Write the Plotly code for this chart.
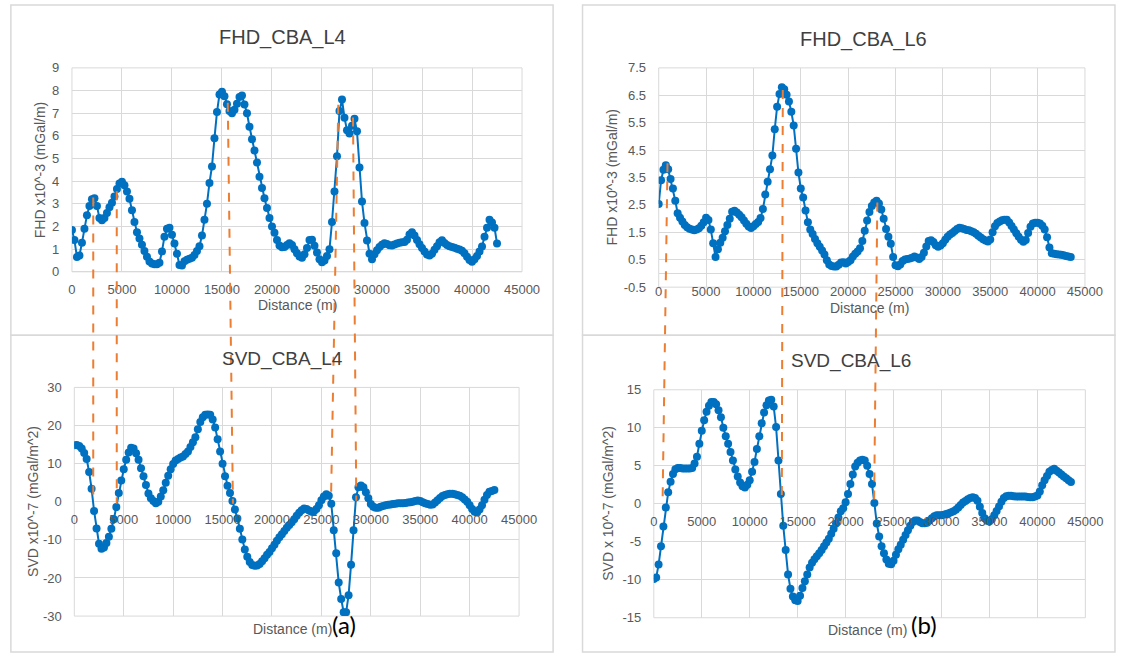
import plotly.graph_objects as go

W, H = 1131, 658

# ---------------- data ----------------
dist_L4 = list(range(0, 42501, 250))   # station distance (m), line L4
dist_L6 = list(range(0, 43501, 250))   # station distance (m), line L6

fhd_L4 = [
    1.85, 1.4, 0.65, 0.72, 1.28, 1.9, 2.5, 2.9, 3.2, 3.25,
    2.9, 2.38, 2.28, 2.37, 2.6, 2.85, 3.05, 3.32, 3.65, 3.9,
    3.97, 3.82, 3.55, 3.22, 2.72, 2.2, 1.75, 1.47, 1.2, 0.92,
    0.66, 0.46, 0.37, 0.33, 0.33, 0.4, 0.9, 1.55, 1.9, 1.95,
    1.64, 1.25, 0.8, 0.3, 0.28, 0.47, 0.53, 0.58, 0.62, 0.74,
    0.92, 1.13, 1.6, 2.3, 3.0, 3.92, 4.65, 5.9, 7.05, 7.83,
    7.95, 7.75, 7.4, 7.1, 7.0, 7.15, 7.42, 7.72, 7.78, 7.38,
    7.0, 6.4, 5.85, 5.35, 4.82, 4.2, 3.7, 3.25, 2.82, 2.38,
    2.0, 1.72, 1.4, 1.16, 1.08, 1.1, 1.18, 1.26, 1.18, 1.0,
    0.82, 0.68, 0.62, 0.78, 1.05, 1.4, 1.42, 1.15, 0.85, 0.55,
    0.42, 0.5, 0.7, 1.0, 2.2, 3.55, 5.1, 7.1, 7.6, 6.8,
    6.25, 6.1, 6.45, 6.75, 6.2, 4.6, 3.1, 2.15, 1.38, 0.8,
    0.55, 0.78, 0.95, 1.1, 1.2, 1.26, 1.23, 1.17, 1.16, 1.21,
    1.25, 1.28, 1.3, 1.32, 1.42, 1.65, 1.75, 1.6, 1.4, 1.22,
    1.05, 0.9, 0.76, 0.72, 0.8, 0.97, 1.13, 1.3, 1.39, 1.27,
    1.18, 1.13, 1.1, 1.06, 1.02, 0.98, 0.93, 0.82, 0.66, 0.52,
    0.44, 0.55, 0.7, 0.9, 1.12, 1.55, 1.95, 2.3, 2.18, 1.95,
    1.25,
]

svd_L4 = [
    14.8, 14.9, 14.6, 14.0, 12.8, 11.2, 7.8, 3.4, -2.4, -7.0,
    -11.0, -12.3, -12.0, -10.8, -9.2, -7.1, -4.6, -1.4, 2.3, 5.6,
    8.5, 11.0, 12.9, 14.2, 14.0, 12.7, 11.0, 8.8, 6.7, 4.4,
    2.2, 0.9, 0.2, -0.4, 0.0, 1.4, 3.0, 5.0, 6.8, 8.5,
    9.9, 10.8, 11.2, 11.6, 11.9, 12.5, 13.2, 14.4, 15.6, 16.9,
    19.0, 20.9, 22.2, 22.8, 22.9, 22.8, 21.6, 19.5, 16.4, 13.2,
    10.0, 6.7, 4.2, 2.3, 0.2, -2.0, -4.4, -7.1, -9.9, -12.5,
    -14.4, -15.8, -16.6, -16.8, -16.7, -16.3, -15.6, -14.8, -13.9, -13.2,
    -12.2, -11.3, -10.2, -9.3, -8.5, -7.7, -6.8, -6.1, -5.4, -4.6,
    -3.7, -2.9, -2.2, -1.8, -1.9, -2.3, -2.6, -2.5, -1.9, -0.9,
    0.4, 1.4, 2.0, 1.6, -0.5, -7.5, -13.5, -21.2, -25.5, -29.0,
    -29.0, -24.5, -16.5, -7.5, 1.2, 3.8, 4.3, 3.8, 2.5, 0.9,
    -0.6, -1.3, -1.6, -1.6, -1.3, -1.1, -0.9, -0.8, -0.7, -0.6,
    -0.5, -0.4, -0.4, -0.4, -0.3, -0.2, -0.1, 0.0, 0.2, 0.3,
    0.2, -0.1, -0.4, -0.6, -0.8, -0.7, -0.2, 0.4, 1.0, 1.5,
    1.8, 2.0, 2.1, 2.1, 2.0, 1.8, 1.6, 1.2, 0.6, 0.0,
    -0.9, -1.9, -2.6, -2.8, -2.0, -0.9, 0.5, 1.8, 2.6, 2.8,
    3.1,
]

fhd_L6 = [
    2.53, 3.4, 3.78, 3.95, 3.8, 3.45, 3.1, 2.65, 2.2, 2.03,
    1.9, 1.77, 1.69, 1.63, 1.6, 1.58, 1.6, 1.65, 1.74, 1.87,
    2.03, 1.95, 1.6, 1.1, 0.6, 0.88, 1.12, 1.3, 1.54, 1.77,
    2.0, 2.25, 2.29, 2.22, 2.14, 2.05, 1.93, 1.81, 1.71, 1.66,
    1.72, 1.8, 1.88, 2.02, 2.35, 2.88, 3.35, 3.8, 4.3, 5.26,
    6.08, 6.55, 6.79, 6.72, 6.52, 6.27, 5.9, 5.4, 4.55, 3.68,
    3.1, 2.77, 2.3, 1.87, 1.6, 1.44, 1.26, 1.1, 0.97, 0.84,
    0.69, 0.48, 0.33, 0.27, 0.25, 0.25, 0.32, 0.4, 0.41, 0.36,
    0.42, 0.48, 0.62, 0.72, 0.8, 0.92, 1.18, 1.56, 1.93, 2.24,
    2.46, 2.59, 2.65, 2.55, 2.33, 2.0, 1.62, 1.34, 1.08, 0.6,
    0.3, 0.26, 0.33, 0.45, 0.51, 0.53, 0.55, 0.57, 0.62, 0.58,
    0.53, 0.6, 0.76, 0.98, 1.18, 1.21, 1.15, 1.03, 0.97, 1.02,
    1.1, 1.23, 1.34, 1.42, 1.48, 1.55, 1.62, 1.67, 1.65, 1.62,
    1.59, 1.58, 1.54, 1.5, 1.45, 1.38, 1.31, 1.25, 1.2, 1.17,
    1.24, 1.5, 1.72, 1.84, 1.9, 1.94, 1.96, 1.96, 1.86, 1.73,
    1.6, 1.47, 1.34, 1.23, 1.16, 1.22, 1.48, 1.7, 1.82, 1.85,
    1.85, 1.82, 1.74, 1.6, 1.32, 0.95, 0.74, 0.72, 0.7, 0.69,
    0.68, 0.66, 0.64, 0.62, 0.6,
]

svd_L6 = [
    -9.9, -9.7, -8.0, -5.6, -3.0, -0.5, 1.5, 2.9, 3.9, 4.55,
    4.7, 4.7, 4.65, 4.63, 4.63, 4.63, 4.7, 5.3, 6.2, 7.9,
    9.6, 11.0, 12.1, 12.9, 13.4, 13.4, 13.1, 12.3, 11.4, 10.0,
    8.9, 7.9, 6.8, 5.7, 4.5, 3.6, 2.8, 2.3, 2.15, 2.5,
    3.1, 4.2, 5.5, 7.2, 8.9, 10.6, 12.0, 12.95, 13.6, 13.7,
    12.8, 10.1, 5.7, 1.3, -2.9, -6.1, -9.3, -11.2, -12.2, -12.7,
    -12.8, -12.1, -11.1, -10.2, -9.3, -8.4, -7.75, -7.3, -6.9, -6.5,
    -6.1, -5.6, -5.1, -4.6, -3.95, -3.3, -2.6, -1.8, -1.0, -0.6,
    0.2, 1.3, 2.6, 3.86, 4.9, 5.4, 5.7, 5.8, 5.7, 5.0,
    3.9, 2.6, 0.1, -2.6, -4.3, -5.6, -6.5, -7.35, -7.9, -7.95,
    -7.5, -6.7, -6.0, -5.4, -4.75, -4.1, -3.5, -2.9, -2.4, -2.2,
    -2.2, -2.4, -2.55, -2.57, -2.5, -2.2, -1.9, -1.65, -1.5, -1.5,
    -1.5, -1.45, -1.35, -1.25, -1.12, -1.0, -0.8, -0.5, -0.15, 0.15,
    0.35, 0.6, 0.75, 0.86, 0.77, 0.4, -0.4, -1.2, -1.9, -2.25,
    -2.3, -2.05, -1.5, -0.95, -0.35, 0.25, 0.75, 1.0, 1.07, 1.07,
    1.0, 0.95, 0.94, 0.94, 0.94, 0.94, 0.9, 0.87, 0.86, 0.95,
    1.1, 1.6, 2.45, 3.1, 3.65, 4.2, 4.45, 4.6, 4.35, 4.1,
    3.85, 3.6, 3.35, 3.1, 2.85,
]

assert len(fhd_L4) == len(dist_L4) and len(svd_L4) == len(dist_L4)
assert len(fhd_L6) == len(dist_L6) and len(svd_L6) == len(dist_L6)

# tick labels (as printed on the chart)
x_ticks = [0, 5000, 10000, 15000, 20000, 25000, 30000, 35000, 40000, 45000]
x_ticktext = ["0", "5000", "10000", "15000", "20000", "25000", "30000", "35000", "40000", "45000"]
y_ticks = [
    [0, 1, 2, 3, 4, 5, 6, 7, 8, 9],
    [-30, -20, -10, 0, 10, 20, 30],
    [-0.5, 0.5, 1.5, 2.5, 3.5, 4.5, 5.5, 6.5, 7.5],
    [-15, -10, -5, 0, 5, 10, 15],
]
y_ticktext = [
    ["0", "1", "2", "3", "4", "5", "6", "7", "8", "9"],
    ["-30", "-20", "-10", "0", "10", "20", "30"],
    ["-0.5", "0.5", "1.5", "2.5", "3.5", "4.5", "5.5", "6.5", "7.5"],
    ["-15", "-10", "-5", "0", "5", "10", "15"],
]

titles = ["FHD_CBA_L4", "SVD_CBA_L4", "FHD_CBA_L6", "SVD_CBA_L6"]
ytitles = ["FHD x10^-3 (mGal/m)", "SVD x10^-7 (mGal/m^2)",
           "FHD x10^-3 (mGal/m)", "SVD x 10^-7 (mGal/m^2)"]
xtitle = "Distance (m)"
panel_labels = ["(a)", "(b)"]

# connectors: (top panel, x, y) -> (bottom panel, x, y) in data units
connectors = [
    (0, 2130, 3.28, 1, 1915, 0.0),
    (0, 4480, 3.56, 1, 4295, -0.5),
    (0, 15580, 7.46, 1, 16050, -0.5),
    (0, 26630, 7.37, 1, 25970, 0.25),
    (0, 28100, 6.81, 1, 28530, 0.25),
    (2, 930, 4.02, 3, 920, 0.68),
    (2, 13100, 6.69, 3, 13350, 0.2),
    (2, 23080, 2.59, 3, 22970, 0.0),
]

# ---------------- layout helpers ----------------
def px_x(p):
    return p / W

def px_y(p):
    return 1 - p / H

# plot-area pixel boxes: (x_left, x_right, y_top, y_bottom)
boxes = [
    (69.3, 528.3, 62.3, 271.0),
    (71.7, 525.3, 389.3, 623.3),
    (667.7, 1102.4, 62.3, 286.7),
    (662.7, 1102.8, 391.7, 625.0),
]
yranges = [[0, 9], [-30, 30], [-0.5, 7.5], [-15, 15]]
xrange_ = [0, 45000]
series = [(dist_L4, fhd_L4), (dist_L4, svd_L4), (dist_L6, fhd_L6), (dist_L6, svd_L6)]

BLUE = "#0070C0"
GRID = "#d9d9d9"
TXT = "#595959"
FONT = "Liberation Sans, Arial, sans-serif"

fig = go.Figure()
layout = dict(
    width=W, height=H, margin=dict(l=0, r=0, t=0, b=0),
    paper_bgcolor="white", plot_bgcolor="white", showlegend=False,
    font=dict(family=FONT, color=TXT),
)

def data_to_paper(i, xv, yv):
    xl, xr, yt, yb = boxes[i]
    px = xl + (xv - xrange_[0]) / (xrange_[1] - xrange_[0]) * (xr - xl)
    lo, hi = yranges[i]
    py = yb - (yv - lo) / (hi - lo) * (yb - yt)
    return px_x(px), px_y(py)

shapes = []
annotations = []
for i, ((xs, ys), (xl, xr, yt, yb)) in enumerate(zip(series, boxes)):
    n = "" if i == 0 else str(i + 1)
    xa, ya = "xaxis" + n, "yaxis" + n
    lo, hi = yranges[i]
    zero_py = yb - (0 - lo) / (hi - lo) * (yb - yt)
    xdict = dict(
        domain=[px_x(xl), px_x(xr)], range=xrange_,
        tickmode="array", tickvals=x_ticks, ticktext=x_ticktext,
        showgrid=True, gridcolor=GRID, gridwidth=1, zeroline=False,
        showline=False, ticks="outside", ticklen=6, tickcolor="rgba(0,0,0,0)",
        tickfont=dict(size=13, color=TXT, family=FONT), fixedrange=True,
    )
    if lo < 0:
        xdict.update(anchor="free", position=px_y(zero_py))
    else:
        xdict.update(anchor="y" + n)
    ydict = dict(
        domain=[px_y(yb), px_y(yt)], range=yranges[i],
        tickmode="array", tickvals=y_ticks[i], ticktext=y_ticktext[i],
        showgrid=True, gridcolor=GRID, gridwidth=1,
        zeroline=True, zerolinecolor=GRID, zerolinewidth=1,
        showline=False, ticks="outside", ticklen=9, tickcolor="rgba(0,0,0,0)",
        tickfont=dict(size=13, color=TXT, family=FONT), anchor="x" + n, fixedrange=True,
    )
    layout[xa] = xdict
    layout[ya] = ydict
    fig.add_trace(go.Scatter(
        x=xs, y=ys, mode="lines+markers", xaxis="x" + n, yaxis="y" + n,
        line=dict(color=BLUE, width=2), marker=dict(color=BLUE, size=8),
        hoverinfo="skip",
    ))
    # plot-area frame
    shapes.append(dict(type="rect", xref="paper", yref="paper",
                       x0=px_x(xl), x1=px_x(xr), y0=px_y(yb), y1=px_y(yt),
                       line=dict(color=GRID, width=1), layer="below"))

# chart titles
for text, cx, cy, sz in [(titles[0], 284, 31, 20), (titles[1], 284, 360, 19),
                         (titles[2], 877, 33, 20), (titles[3], 864, 362, 19)]:
    annotations.append(dict(text=text, x=px_x(cx), y=px_y(cy), xref="paper", yref="paper",
                            showarrow=False, xanchor="center", yanchor="middle",
                            font=dict(size=sz, color="#404040", family=FONT)))

# axis titles
for text, cx, cy in [(ytitles[0], 37, 166.7), (ytitles[1], 30, 506),
                     (ytitles[2], 620, 174.5), (ytitles[3], 616, 508.3)]:
    annotations.append(dict(text=text, x=px_x(cx), y=px_y(cy), xref="paper", yref="paper",
                            showarrow=False, textangle=-90, xanchor="center", yanchor="middle",
                            font=dict(size=14, color=TXT, family=FONT)))
for cx, cy in [(299, 305), (294, 637), (883, 308), (881, 638)]:
    annotations.append(dict(text=xtitle, x=px_x(cx), y=px_y(cy), xref="paper", yref="paper",
                            showarrow=False, xanchor="center", yanchor="middle",
                            font=dict(size=14, color=TXT, family=FONT)))

# panel labels
for text, cx, cy in [(panel_labels[0], 347, 632), (panel_labels[1], 938, 632)]:
    annotations.append(dict(text=text, x=px_x(cx), y=px_y(cy), xref="paper", yref="paper",
                            showarrow=False, xanchor="center", yanchor="middle",
                            font=dict(size=24, color="black", family="Lato, Open Sans, sans-serif")))

# chart-box borders
for (x0, y0, x1, y1) in [(7, -2, 560, 336), (7, 336, 560, 660),
                         (590, -2, 1133, 336), (590, 336, 1133, 660)]:
    shapes.append(dict(type="rect", xref="paper", yref="paper",
                       x0=px_x(x0), x1=px_x(x1), y0=px_y(y1), y1=px_y(y0),
                       line=dict(color=GRID, width=1.5), layer="below"))

# orange dashed connectors
for (ta, tx, ty, ba, bx, by) in connectors:
    x0, y0 = data_to_paper(ta, tx, ty)
    x1, y1 = data_to_paper(ba, bx, by)
    shapes.append(dict(type="line", xref="paper", yref="paper", x0=x0, y0=y0, x1=x1, y1=y1,
                       line=dict(color="#ED7D31", width=2, dash="dash"), layer="above"))

layout["shapes"] = shapes
layout["annotations"] = annotations
fig.update_layout(**layout)
fig.write_html("out.html")
